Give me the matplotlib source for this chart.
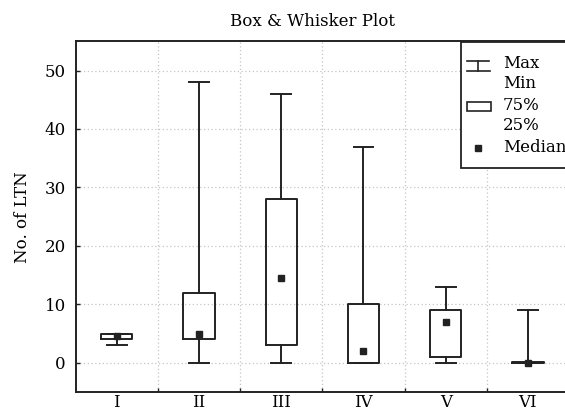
import matplotlib
matplotlib.use("Agg")
import matplotlib.pyplot as plt
from matplotlib.patches import Rectangle
from matplotlib.lines import Line2D

categories = ['I', 'II', 'III', 'IV', 'V', 'VI']
mins = [3, 0, 0, 0, 0, 0]
q1 = [4, 4, 3, 0, 1, 0]
medians = [4.5, 5, 14.5, 2, 7, 0]
q3 = [5, 12, 28, 10, 9, 0.1]
maxs = [5, 48, 46, 37, 13, 9]
yticks = [0, 10, 20, 30, 40, 50]

W, H = 565, 413
plt.rcParams['font.family'] = ['DejaVu Serif']
FS = 12
fig = plt.figure(figsize=(W / 100, H / 100), dpi=100)

def fx(x):
    return x / W

def fy(y):
    return 1 - y / H

L, R, T, B = 75.7, 569, 41.3, 392
ax = fig.add_axes([fx(L), fy(B), fx(R) - fx(L), fy(T) - fy(B)])

INK = '#222222'
positions = list(range(1, len(categories) + 1))
stats = []
for i in range(len(categories)):
    stats.append(dict(whislo=mins[i], q1=q1[i], med=medians[i], q3=q3[i],
                      whishi=maxs[i], fliers=[], label=categories[i]))
lp = dict(color=INK, linewidth=1.4)
ax.bxp(stats, positions=positions, widths=0.38, capwidths=0.24,
       showfliers=False, boxprops=lp, whiskerprops=lp, capprops=lp,
       medianprops=dict(linewidth=0), manage_ticks=False, zorder=3)
ax.plot(positions, medians, 's', color=INK, markersize=4.5, linestyle='none', zorder=4)

ax.set_xlim(0.5, 6.5)
ax.set_ylim(-5, 55)
ax.set_yticks(yticks)
ax.set_xticks([1.5, 2.5, 3.5, 4.5, 5.5])
ax.set_xticklabels([])
ax.set_xticks(positions, minor=True)
ax.set_xticklabels(categories, minor=True)
ax.tick_params(axis='x', which='minor', length=0, pad=1.5, labelsize=FS)
ax.tick_params(axis='x', which='major', direction='in', length=3, width=1, color=INK)
ax.tick_params(axis='y', direction='in', length=3, width=1, color=INK, pad=7, labelsize=FS)
ax.grid(True, which='major', linestyle=(0, (1, 2)), color='#c4c4c4', linewidth=0.9)
ax.set_axisbelow(True)
for s in ax.spines.values():
    s.set_color(INK)
    s.set_linewidth(1.4)
ax.set_ylabel('No. of LTN', fontsize=FS, labelpad=10)

fig.text(fx(312.5), fy(21.5), 'Box & Whisker Plot', ha='center', va='center', fontsize=FS)

# legend box
tf = fig.transFigure
fig.patches.append(Rectangle((fx(461), fy(167.7)), fx(W + 10) - fx(461), fy(41.7) - fy(167.7),
                             transform=tf, facecolor='white', edgecolor=INK, linewidth=1.3, zorder=5))
lw = 1.2
for (x0, x1, y0, y1) in [(467, 489, 61, 61), (467, 490, 71, 71), (478, 478, 61, 71)]:
    fig.lines.append(Line2D([fx(x0), fx(x1)], [fy(y0), fy(y1)], transform=tf, color=INK, linewidth=lw, zorder=6))
fig.patches.append(Rectangle((fx(467), fy(111)), fx(491) - fx(467), fy(102) - fy(111),
                             transform=tf, facecolor='white', edgecolor=INK, linewidth=lw, zorder=6))
fig.lines.append(Line2D([fx(478)], [fy(148)], transform=tf, marker='s', markersize=4.5,
                        color=INK, linestyle='none', zorder=6))
for txt, y in [('Max', 64), ('Min', 83), ('75%', 105), ('25%', 125), ('Median', 148)]:
    fig.text(fx(503), fy(y), txt, ha='left', va='center', fontsize=FS, zorder=7)

fig.savefig('out.png', dpi=100)
